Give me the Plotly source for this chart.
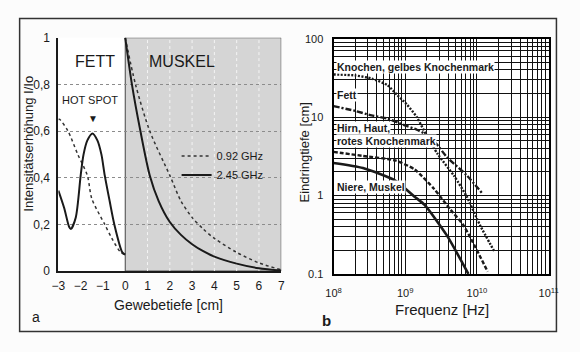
import plotly.graph_objects as go

# ---------------- data: panel a (Intensitätserhöhung vs. Gewebetiefe) ----------------
fat_depth_245 = [-3.0, -2.74, -2.52, -2.44, -2.22, -2.0, -1.87, -1.7, -1.47, -1.25, -1.07, -0.92, -0.7, -0.49, -0.13, 0.0]
fat_int_245 = [0.345, 0.27, 0.19, 0.18, 0.23, 0.41, 0.50, 0.56, 0.59, 0.56, 0.50, 0.41, 0.30, 0.20, 0.08, 0.07]
mus_depth_245 = [0.0, 0.3, 0.68, 1.1, 1.5, 2.0, 2.5, 3.0, 3.5, 4.0, 5.0, 6.0, 7.0]
mus_int_245 = [1.0, 0.80, 0.60, 0.41, 0.30, 0.21, 0.155, 0.115, 0.085, 0.062, 0.032, 0.012, 0.002]

fat_depth_092 = [-3.0, -2.94, -2.57, -2.13, -1.7, -1.5, -0.92, -0.6, -0.2, 0.0]
fat_int_092 = [0.65, 0.65, 0.60, 0.50, 0.41, 0.31, 0.20, 0.14, 0.08, 0.07]
mus_depth_092 = [0.0, 0.46, 1.1, 2.0, 2.5, 3.0, 3.5, 4.0, 5.0, 6.0, 7.0]
mus_int_092 = [1.0, 0.80, 0.60, 0.41, 0.30, 0.23, 0.18, 0.14, 0.08, 0.035, 0.005]

depth_ticks = [-3, -2, -1, 0, 1, 2, 3, 4, 5, 6, 7]
int_ticks = [0, 0.2, 0.4, 0.6, 0.8, 1.0]
int_ticktext = ["0", "0,2", "0,4", "0,6", "0,8", "1"]
muskel_start, muskel_end = 0, 7
muskel_grid = [1, 2, 3, 4, 5, 6]

# ---------------- data: panel b (Eindringtiefe vs. Frequenz) ----------------
knochen_f = [1.0e8, 2.0e8, 3.39e8, 5.62e8, 7.76e8, 1.05e9, 1.45e9, 1.95e9, 2.82e9, 4.79e9, 7.24e9, 1.10e10, 1.74e10]
knochen_d = [35, 34, 31, 25.6, 19, 14.5, 10, 6.0, 3.4, 1.78, 0.96, 0.42, 0.195]

fett_f = [1.0e8, 2.0e8, 3.39e8, 5.62e8, 9.33e8, 1.45e9, 1.95e9, 2.69e9, 3.80e9, 7.24e9, 1.20e10]
fett_d = [13.8, 12, 10.5, 9.6, 8.0, 6.9, 6.0, 4.6, 3.1, 1.8, 1.05]

hirn_f = [1.0e8, 2.57e8, 7.24e8, 1.35e9, 2.51e9, 4.27e9, 6.46e9, 1.41e10]
hirn_d = [3.6, 3.2, 2.8, 2.15, 1.22, 0.66, 0.42, 0.107]

niere_f = [1.0e8, 2.57e8, 7.24e8, 1.36e9, 1.86e9, 3.80e9, 7.59e9]
niere_d = [2.6, 2.24, 1.55, 0.96, 0.76, 0.31, 0.10]

freq_decades = [8, 9, 10, 11]
depth_decades = [-1, 0, 1, 2]
depth_ticktext = ["0.1", "1", "10", "100"]

# ---------------- figure ----------------
W, H = 580, 352


def px(x):
    return x / W


def py(y):
    return 1 - y / H


INK = "#1a1a1a"
SANS = "Liberation Sans, Arial, sans-serif"
fig = go.Figure()

# panel a traces (fat and muscle parts separated by a gap)
fig.add_trace(go.Scatter(
    x=fat_depth_092 + [None] + mus_depth_092, y=fat_int_092 + [None] + mus_int_092,
    mode="lines", name="0.92 GHz", line=dict(color="#333", width=1.5, dash="dot", shape="spline", smoothing=0.8),
    xaxis="x", yaxis="y", connectgaps=False))
fig.add_trace(go.Scatter(
    x=fat_depth_245 + [None] + mus_depth_245, y=fat_int_245 + [None] + mus_int_245,
    mode="lines", name="2.45 GHz", line=dict(color=INK, width=2, shape="spline", smoothing=0.8),
    xaxis="x", yaxis="y", connectgaps=False))

# panel b traces
fig.add_trace(go.Scatter(x=knochen_f, y=knochen_d, mode="lines", showlegend=False,
                         line=dict(color=INK, width=2.4, dash="2px,1.5px", shape="spline", smoothing=0.6),
                         xaxis="x2", yaxis="y2"))
fig.add_trace(go.Scatter(x=fett_f, y=fett_d, mode="lines", showlegend=False,
                         line=dict(color=INK, width=2.4, dash="6px,2px,2px,2px", shape="spline", smoothing=0.6),
                         xaxis="x2", yaxis="y2"))
fig.add_trace(go.Scatter(x=hirn_f, y=hirn_d, mode="lines", showlegend=False,
                         line=dict(color=INK, width=2.4, dash="4px,2px", shape="spline", smoothing=0.6),
                         xaxis="x2", yaxis="y2"))
fig.add_trace(go.Scatter(x=niere_f, y=niere_d, mode="lines", showlegend=False,
                         line=dict(color=INK, width=2.6, shape="spline", smoothing=0.6),
                         xaxis="x2", yaxis="y2"))

# log tick values (all minor lines get grid)
xt_vals, xt_text = [], []
for d in freq_decades:
    for k in range(1, 10):
        if d == freq_decades[-1] and k > 1:
            break
        xt_vals.append(k * 10.0 ** d)
        xt_text.append(f"10<sup>{d}</sup>" if k == 1 else "")
yt_vals, yt_text = [], []
for i, d in enumerate(depth_decades):
    for k in range(1, 10):
        if d == depth_decades[-1] and k > 1:
            break
        yt_vals.append(k * 10.0 ** d)
        yt_text.append(depth_ticktext[i] if k == 1 else "")

tickfont = dict(family=SANS, size=12, color=INK)

fig.update_layout(
    width=W, height=H, margin=dict(l=0, r=0, t=0, b=0),
    paper_bgcolor="#fcfcfc", plot_bgcolor="white",
    font=dict(family=SANS, color=INK),
    xaxis=dict(domain=[px(52), px(282)], range=[-3, 7], tickvals=depth_ticks, anchor="y",
               showgrid=False, zeroline=False, showline=True, linecolor=INK, linewidth=2,
               ticks="", ticklabelstandoff=3, tickfont=tickfont),
    yaxis=dict(domain=[py(275), py(32)], range=[0, 1], tickvals=int_ticks, ticktext=int_ticktext,
               anchor="x", showgrid=True, gridcolor="#8c8c8c", griddash="dot", gridwidth=1,
               zeroline=False, showline=True, linecolor=INK, linewidth=2, ticks="",
               ticklabelstandoff=4, tickfont=tickfont),
    xaxis2=dict(type="log", domain=[px(336), px(558)], range=[8, 11], tickvals=xt_vals, ticktext=xt_text,
                anchor="y2", showgrid=True, gridcolor="#111", gridwidth=1, zeroline=False,
                showline=True, mirror=True, linecolor="#000", linewidth=2, ticks="",
                ticklabelstandoff=8, tickfont=dict(family=SANS, size=11, color=INK)),
    yaxis2=dict(type="log", domain=[py(278), py(33)], range=[-1, 2], tickvals=yt_vals, ticktext=yt_text,
                anchor="x2", showgrid=True, gridcolor="#111", gridwidth=1, zeroline=False,
                showline=True, mirror=True, linecolor="#000", linewidth=2, ticks="",
                ticklabelstandoff=6, tickfont=dict(family=SANS, size=11, color=INK)),
    legend=dict(x=px(174), y=py(140), xanchor="left", yanchor="top", bgcolor="rgba(0,0,0,0)",
                font=dict(size=11, color=INK), tracegroupgap=0, itemwidth=30),
)

# muscle region shading
fig.add_shape(type="rect", xref="x", yref="y", x0=muskel_start, x1=muskel_end, y0=0, y1=1,
              fillcolor="#d5d5d5", line=dict(color="#444", width=1), layer="below")
for gx in muskel_grid:
    fig.add_shape(type="line", xref="x", yref="y", x0=gx, x1=gx, y0=0, y1=1,
                  line=dict(color="#f4f4f4", width=1, dash="dot"), layer="below")

# outer frame
fig.add_shape(type="rect", xref="paper", yref="paper", x0=px(12), x1=px(566), y0=py(338), y1=py(12),
              line=dict(color="#333", width=1.5), fillcolor="rgba(0,0,0,0)", layer="below")

ann = []


def add_text(x, y, text, size, angle=0, xanchor="center", bold=False, bg=None, family=None):
    if bold:
        text = f"<b>{text}</b>"
    d = dict(x=px(x), y=py(y), xref="paper", yref="paper", text=text, showarrow=False,
             font=dict(size=size, color=INK, family=family or SANS),
             textangle=angle, xanchor=xanchor, yanchor="middle")
    if bg:
        d["bgcolor"] = bg
        d["borderpad"] = 0
    ann.append(d)


add_text(90, 57, "FETT", 16)
add_text(180, 57, "MUSKEL", 16)
add_text(85, 97, "HOT SPOT", 11)
add_text(88, 116, "▼", 10)
add_text(21, 142, "Intensitätserhöhung I/Io", 13, angle=-90)
add_text(166, 310, "Gewebetiefe [cm]", 14)
add_text(29, 323, "a", 14)

add_text(306, 152, "Eindringtiefe [cm]", 13, angle=-90)
add_text(448, 315, "Frequenz [Hz]", 15)
add_text(329, 327, "b", 15, bold=True)

lab = "Liberation Sans Narrow, Arial Narrow, Liberation Sans, sans-serif"
add_text(338, 62, "Knochen, gelbes Knochenmark", 10.5, xanchor="left", bold=True, bg="white", family=lab)
add_text(338, 92, "Fett", 10.5, xanchor="left", bold=True, bg="white", family=lab)
add_text(338, 126, "Hirn, Haut,", 10.5, xanchor="left", bold=True, bg="white", family=lab)
add_text(338, 140, "rotes Knochenmark", 10.5, xanchor="left", bold=True, bg="white", family=lab)
add_text(338, 187, "Niere, Muskel", 10.5, xanchor="left", bold=True, bg="white", family=lab)

fig.update_layout(annotations=ann)
fig.write_html("out.html")
